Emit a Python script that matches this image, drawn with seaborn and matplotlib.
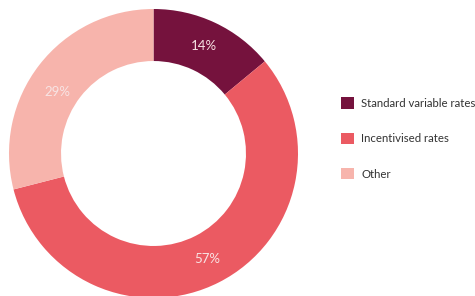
import matplotlib
matplotlib.use("Agg")
import numpy as np
import matplotlib.pyplot as plt
import seaborn as sns

categorias = ["Standard variable rates", "Incentivised rates", "Other"]
valores = [14, 57, 29]
cores = ["#75123D", "#EB5A62", "#F7B4AC"]

sns.set_theme(style="white")
plt.rcParams["font.family"] = ["Lato", "DejaVu Sans"]

fig = plt.figure(figsize=(4.75, 2.96), dpi=100)
ax = fig.add_axes([9 / 475, -2 / 296, 289 / 475, 289 / 296])

wedges, textos, autotextos = ax.pie(
    valores,
    colors=cores,
    startangle=90,
    counterclock=False,
    radius=1,
    wedgeprops={"width": 0.36, "linewidth": 0},
    autopct="%d%%",
    pctdistance=0.82,
    textprops={"color": "#F8E4E4", "fontsize": 9.5},
)
# o rótulo de 29% fica um pouco mais abaixo no original
ang = np.deg2rad(147.5)
autotextos[2].set_position((0.79 * np.cos(ang), 0.79 * np.sin(ang)))

ax.set_xlim(-1, 1)
ax.set_ylim(-1, 1)
ax.set_aspect("equal")
ax.axis("off")

fig.legend(
    wedges,
    categorias,
    loc="upper left",
    bbox_to_anchor=(331 / 475, 1 - 87 / 296),
    frameon=False,
    fontsize=8.2,
    handlelength=1.15,
    handleheight=1.15,
    handletextpad=0.6,
    labelspacing=2.1,
    labelcolor="#333333",
)

fig.savefig("out.png", dpi=100)
